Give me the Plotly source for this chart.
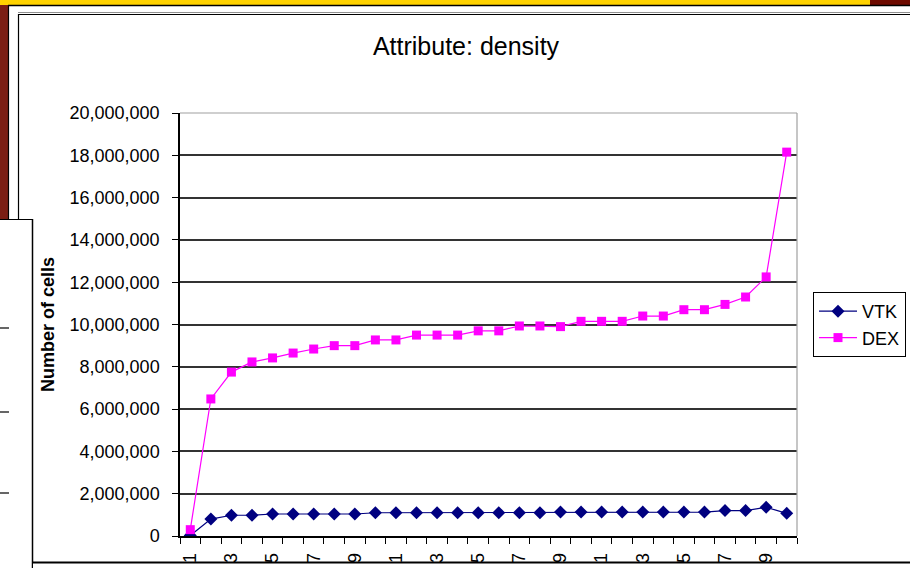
import plotly.graph_objects as go

categories = list(range(1, 31))
vtk = [20000, 800000, 980000, 980000, 1040000, 1040000, 1040000, 1040000, 1040000, 1100000,
       1100000, 1100000, 1100000, 1100000, 1100000, 1100000, 1100000, 1100000, 1130000, 1130000,
       1130000, 1130000, 1130000, 1130000, 1130000, 1130000, 1200000, 1200000, 1360000, 1070000]
dex = [300000, 6480000, 7750000, 8230000, 8420000, 8650000, 8840000, 9000000, 9000000, 9270000,
       9270000, 9500000, 9500000, 9500000, 9700000, 9700000, 9930000, 9930000, 9900000, 10150000,
       10150000, 10150000, 10400000, 10400000, 10700000, 10700000, 10950000, 11300000, 12250000, 18150000]
xtick_vals = [c for c in categories if c % 2 == 1]
xtick_text = [str(c) for c in xtick_vals]
ytick_vals = list(range(0, 20000001, 2000000))
ytick_text = [f"{v:,}" for v in ytick_vals]

W, H = 910, 568
L, R, T, B = 180, 797, 113, 536
FONT = "Liberation Sans, Arial, sans-serif"


def X(p):
    return (p - L) / (R - L)


def Y(p):
    return (B - p) / (B - T)


fig = go.Figure()
fig.add_trace(go.Scatter(x=categories, y=vtk, name="VTK", mode="lines+markers",
                         line=dict(color="#000080", width=1.2),
                         marker=dict(symbol="diamond", size=10, color="#000080")))
fig.add_trace(go.Scatter(x=categories, y=dex, name="DEX", mode="lines+markers",
                         line=dict(color="#FF00FF", width=1.2),
                         marker=dict(symbol="square", size=9, color="#FF00FF")))

shapes = []


def rect(x0, y0, x1, y1, fill, layer="below", line=None):
    shapes.append(dict(type="rect", xref="paper", yref="paper", x0=X(x0), x1=X(x1), y0=Y(y0), y1=Y(y1),
                       fillcolor=fill, line=line or dict(width=0), layer=layer))


def seg(x0, y0, x1, y1, color="black", width=1.5, layer="below"):
    shapes.append(dict(type="line", xref="paper", yref="paper", x0=X(x0), x1=X(x1), y0=Y(y0), y1=Y(y1),
                       line=dict(color=color, width=width), layer=layer))


# slide decorations
rect(0, 0, 880, 5, "#FFD200", layer="above")
rect(870, 0, 910, 5, "#6E0A00", layer="above")
rect(0, 5, 8, 219, "#7B1E14", layer="above")
seg(8, 5.5, 910, 5.5, "black", 1.5, "above")
seg(8.5, 5, 8.5, 219, "black", 1.2, "above")
seg(18, 12.5, 910, 12.5, "#909090", 1, "above")
seg(18, 14.5, 910, 14.5, "black", 1.2, "above")
seg(18.5, 14, 18.5, 219, "black", 1.2, "above")
# overlapping second chart box
rect(0, 219, 32, 568, "white", layer="above")
seg(0, 219.5, 32.5, 219.5, "black", 1.2, "above")
seg(32.5, 219, 32.5, 568, "black", 1.5, "above")
for yy in (328, 412, 493):
    seg(0, yy, 9, yy, "black", 1.2, "above")
# bottom cut-off line
rect(33, 563, 910, 568, "white", layer="above")
seg(32, 562.5, 910, 562.5, "black", 2, "above")
# plot area border (top/right)
seg(L, T, R, T, "#A0A0A0", 1.2, "above")
seg(R, T, R, B, "#A0A0A0", 1.2, "above")

fig.update_layout(
    width=W, height=H,
    margin=dict(l=L, r=W - R, t=T, b=H - B, autoexpand=False),
    paper_bgcolor="white", plot_bgcolor="white",
    font=dict(family=FONT, size=18, color="black"),
    title=dict(text="Attribute: density", xref="container", yref="container",
               x=466 / W, y=1 - 46 / H, xanchor="center", yanchor="middle",
               font=dict(family=FONT, size=25, color="black")),
    showlegend=True,
    legend=dict(xref="container", yref="container", x=813 / W, y=1 - 292 / H,
                xanchor="left", yanchor="top",
                bordercolor="black", borderwidth=1, bgcolor="white",
                font=dict(family=FONT, size=18, color="black"),
                tracegroupgap=0, itemwidth=38),
    shapes=shapes,
    xaxis=dict(range=[0.5, 30.5], tickmode="array", tickvals=xtick_vals, ticktext=xtick_text,
               tickangle=-90, ticks="", showgrid=False, zeroline=False, automargin=False,
               showline=True, linecolor="black", linewidth=1.5,
               tickfont=dict(family=FONT, size=18, color="black"),
               ticklabelstandoff=8,
               minor=dict(tickmode="linear", tick0=0.5, dtick=1, ticks="outside", ticklen=6,
                          tickcolor="black", tickwidth=1.2, showgrid=False)),
    yaxis=dict(range=[0, 20000000], tickmode="array", tickvals=ytick_vals, ticktext=ytick_text,
               ticks="outside", ticklen=6, tickcolor="black", tickwidth=1.2, automargin=False,
               showgrid=True, gridcolor="#333333", gridwidth=1.5, zeroline=False,
               showline=True, linecolor="black", linewidth=1.5,
               tickfont=dict(family=FONT, size=18, color="black"),
               ticklabelstandoff=9,
               title=dict(text="<b>Number of cells</b>", standoff=10,
                          font=dict(family=FONT, size=18, color="black"))),
)

fig.write_html("out.html")
